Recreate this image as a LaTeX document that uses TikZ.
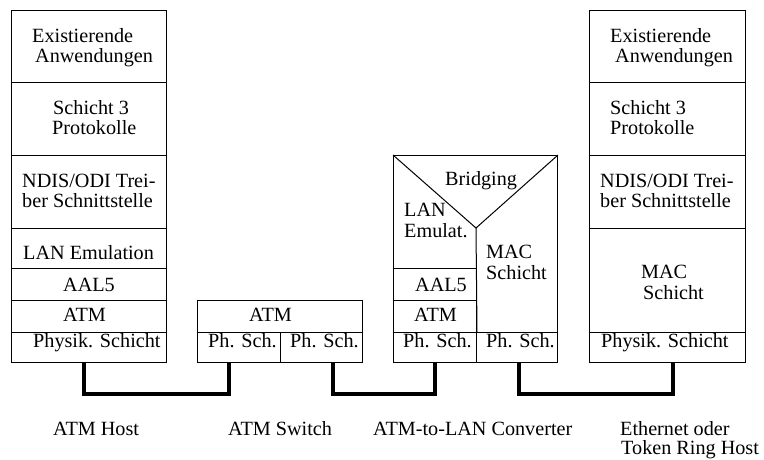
\documentclass[tikz,border=0pt]{standalone}
\usepackage{fontspec}
\setmainfont{Liberation Serif}
\begin{document}
\begin{tikzpicture}[x=1pt,y=-1pt,
  box/.style={draw, line width=1pt, rectangle, inner sep=0pt, anchor=north west},
  txt/.style={anchor=base west, inner sep=0pt, font=\fontsize{20.2}{21}\selectfont},
  conn/.style={line width=4pt, line join=miter}]
\useasboundingbox (0,0) rectangle (764,459);
% ---------- ATM host stack
\node[box, minimum width=155pt, minimum height=72pt] (L1) at (11,10) {};
\node[box, minimum width=155pt, minimum height=73pt] (L2) at (11,82) {};
\node[box, minimum width=155pt, minimum height=73pt] (L3) at (11,155) {};
\node[box, minimum width=155pt, minimum height=40pt] (L4) at (11,228) {};
\node[box, minimum width=155pt, minimum height=32pt] (L5) at (11,268) {};
\node[box, minimum width=155pt, minimum height=32pt] (L6) at (11,300) {};
\node[box, minimum width=155pt, minimum height=30pt] (L7) at (11,332) {};
\node[txt] (lt1) at (32,42) {Existierende};
\node[txt] (lt2) at (35,62) {Anwendungen};
\node[txt] (lt3) at (53,114) {Schicht 3};
\node[txt] (lt4) at (52,134) {Protokolle};
\node[txt] (lt5) at (22,187) {NDIS/ODI Trei-};
\node[txt] (lt6) at (22,207) {ber Schnittstelle};
\node[txt] (lt7) at (23,259) {LAN Emulation};
\node[txt] (lt8) at (63,291) {AAL5};
\node[txt] (lt9) at (63,321) {ATM};
\node[txt] (lt10) at (33,347) {Physik. Schicht};
% ---------- ATM switch
\node[box, minimum width=165pt, minimum height=32pt] (S1) at (197,300) {};
\node[box, minimum width=83pt, minimum height=30pt] (S2) at (197,332) {};
\node[box, minimum width=82pt, minimum height=30pt] (S3) at (280,332) {};
\node[txt] (st1) at (249,321) {ATM};
\node[txt] (st2) at (208,347) {Ph. Sch.};
\node[txt] (st3) at (290,347) {Ph. Sch.};
% ---------- ATM-to-LAN converter
\node[box, minimum width=164pt, minimum height=207pt] (C) at (393,155) {};
\node[box, minimum width=83pt, minimum height=32pt] (C1) at (393,268) {};
\node[box, minimum width=83pt, minimum height=32pt] (C2) at (393,300) {};
\node[box, minimum width=83pt, minimum height=30pt] (C3) at (393,332) {};
\node[box, minimum width=81pt, minimum height=30pt] (C4) at (476,332) {};
\coordinate (apex) at (476,228);
\draw[line width=1pt] (C.north west) -- (apex) -- (C.north east);
\draw[line width=1pt] (apex) -- (C3.north east);
\node[txt] (ct1) at (445,185) {Bridging};
\node[txt] (ct2) at (404,216) {LAN};
\node[txt] (ct3) at (404,237) {Emulat.};
\node[txt] (ct4) at (486,258) {MAC};
\node[txt] (ct5) at (486,279) {Schicht};
\node[txt] (ct6) at (415,291) {AAL5};
\node[txt] (ct7) at (414,321) {ATM};
\node[txt] (ct8) at (403,347) {Ph. Sch.};
\node[txt] (ct9) at (486,347) {Ph. Sch.};
% ---------- Ethernet / Token Ring host stack
\node[box, minimum width=156pt, minimum height=72pt] (R1) at (589,10) {};
\node[box, minimum width=156pt, minimum height=73pt] (R2) at (589,82) {};
\node[box, minimum width=156pt, minimum height=73pt] (R3) at (589,155) {};
\node[box, minimum width=156pt, minimum height=104pt] (R4) at (589,228) {};
\node[box, minimum width=156pt, minimum height=30pt] (R5) at (589,332) {};
\node[txt] (rt1) at (610,42) {Existierende};
\node[txt] (rt2) at (615,62) {Anwendungen};
\node[txt] (rt3) at (610,114) {Schicht 3};
\node[txt] (rt4) at (610,134) {Protokolle};
\node[txt] (rt5) at (600,187) {NDIS/ODI Trei-};
\node[txt] (rt6) at (600,207) {ber Schnittstelle};
\node[txt] (rt7) at (641,278) {MAC};
\node[txt] (rt8) at (643,299) {Schicht};
\node[txt] (rt9) at (601,347) {Physik. Schicht};
% ---------- connectors
\draw[conn] ([xshift=-5.5pt]L7.south) -- ++(0,31) -| ([xshift=-10.5pt]S2.south);
\draw[conn] ([xshift=11pt]S3.south) -- ++(0,31) -| (C3.south);
\draw[conn] ([xshift=1.5pt]C4.south) -- ++(0,31) -| ([xshift=5pt]R5.south);
% ---------- captions
\node[txt] (cap1) at (53,435) {ATM Host};
\node[txt] (cap2) at (228,435) {ATM Switch};
\node[txt] (cap3) at (373,435) {ATM-to-LAN Converter};
\node[txt] (cap4) at (620,435) {Ethernet oder};
\node[txt] (cap5) at (621,454) {Token Ring Host};
\end{tikzpicture}
\end{document}
